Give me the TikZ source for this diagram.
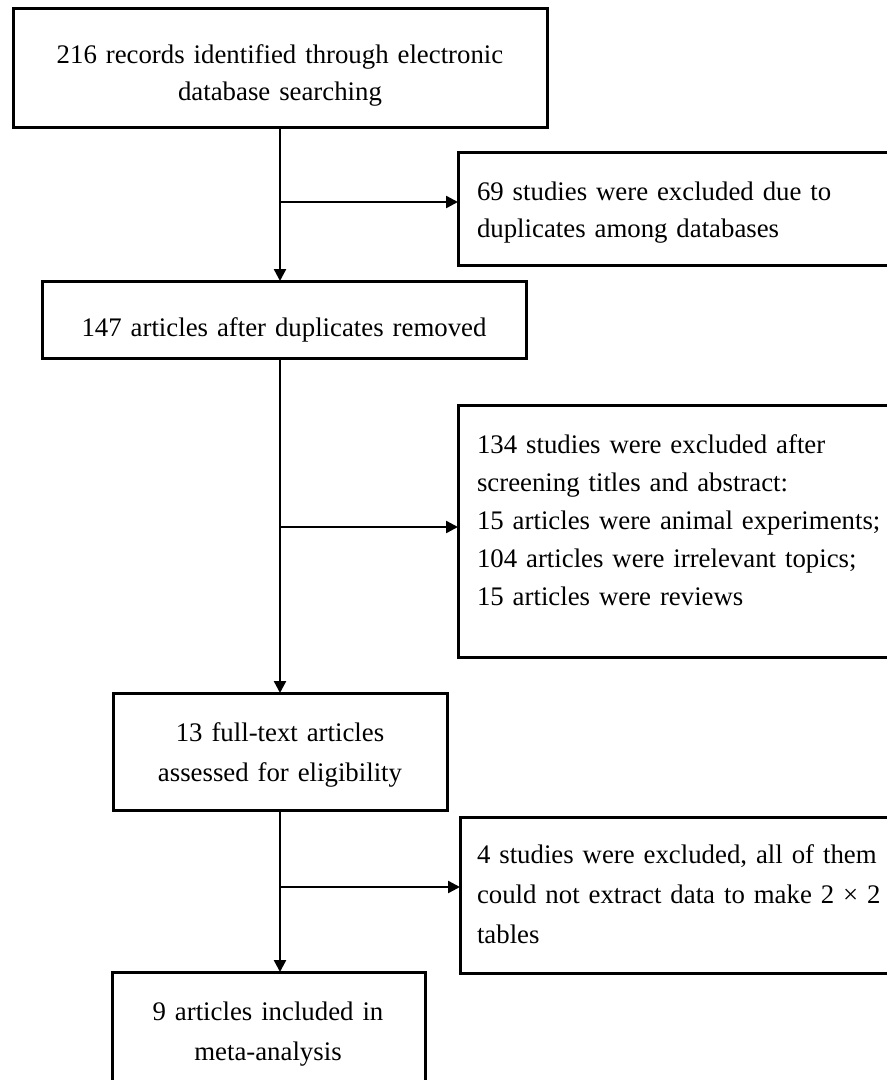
\documentclass[tikz,border=0pt]{standalone}
\usepackage{fontspec}
\setmainfont{Liberation Serif}
\usetikzlibrary{arrows.meta}
\begin{document}
\begin{tikzpicture}[x=1pt,y=-1pt,
  box/.style={draw, line width=3pt, inner sep=0pt, outer sep=0pt},
  conn/.style={line width=2.4pt},
  arr/.style={conn, -{Triangle[length=12pt,width=12pt]}},
  txt/.style={inner sep=0pt, outer sep=0pt, font=\fontsize{26.8}{#1}\selectfont},
]
\useasboundingbox (0,0) rectangle (887,1080);
\clip (0,0) rectangle (887,1080);

% boxes
\node[box, minimum width=534pt, minimum height=119pt] (b1) at (280,67.5) {};
\node[box, minimum width=462pt, minimum height=113pt] (b2) at (689,209) {};
\node[box, minimum width=484pt, minimum height=77pt]  (b3) at (284,319.5) {};
\node[box, minimum width=462pt, minimum height=252pt] (b4) at (689,531) {};
\node[box, minimum width=334pt, minimum height=117pt] (b5) at (280,751.5) {};
\node[box, minimum width=460pt, minimum height=156pt] (b6) at (690,895) {};
\node[box, minimum width=313pt, minimum height=148pt] (b7) at (268.5,1046) {};

% texts
\node[txt=37, text width=530pt, align=center, anchor=base] (t1) at (280,63)
  {216 records identified through electronic\\database searching};
\node[txt=37, text width=400pt, align=left, anchor=base west] (t2) at (477,200)
  {\makebox[400pt][s]{69 studies were excluded due to}\\duplicates among databases};
\node[txt=38, text width=480pt, align=center, anchor=base] (t3) at (284,336)
  {147 articles after duplicates removed};
\node[txt=38, text width=400pt, align=left, anchor=base west] (t4) at (477,453)
  {134 studies were excluded after\\screening titles and abstract:\\\makebox[398pt][s]{15 articles were animal experiments;}\\104 articles were irrelevant topics;\\15 articles were reviews};
\node[txt=40, text width=330pt, align=center, anchor=base] (t5) at (280,741)
  {13 full-text articles\\assessed for eligibility};
\node[txt=40, text width=400pt, align=left, anchor=base west] (t6) at (477,863)
  {\makebox[398pt][s]{4 studies were excluded, all of them}\\\makebox[398pt][s]{could not extract data to make 2 × 2}\\tables};
\node[txt=40, text width=310pt, align=center, anchor=base] (t7) at (268,1020)
  {9 articles included in\\meta-analysis};

% connectors
\coordinate (j1) at (280,202);
\coordinate (j2) at (280,527);
\coordinate (j3) at (280,887);
\draw[arr] (b1.south) -- (b1.south |- b3.north);
\draw[arr] (j1) -- (j1 -| b2.west);
\draw[arr] (b5.north |- b3.south) -- (b5.north);
\draw[arr] (j2) -- (j2 -| b4.west);
\draw[arr] (b5.south) -- (b5.south |- b7.north);
\draw[arr] (j3) -- (j3 -| b6.west);
\end{tikzpicture}
\end{document}
